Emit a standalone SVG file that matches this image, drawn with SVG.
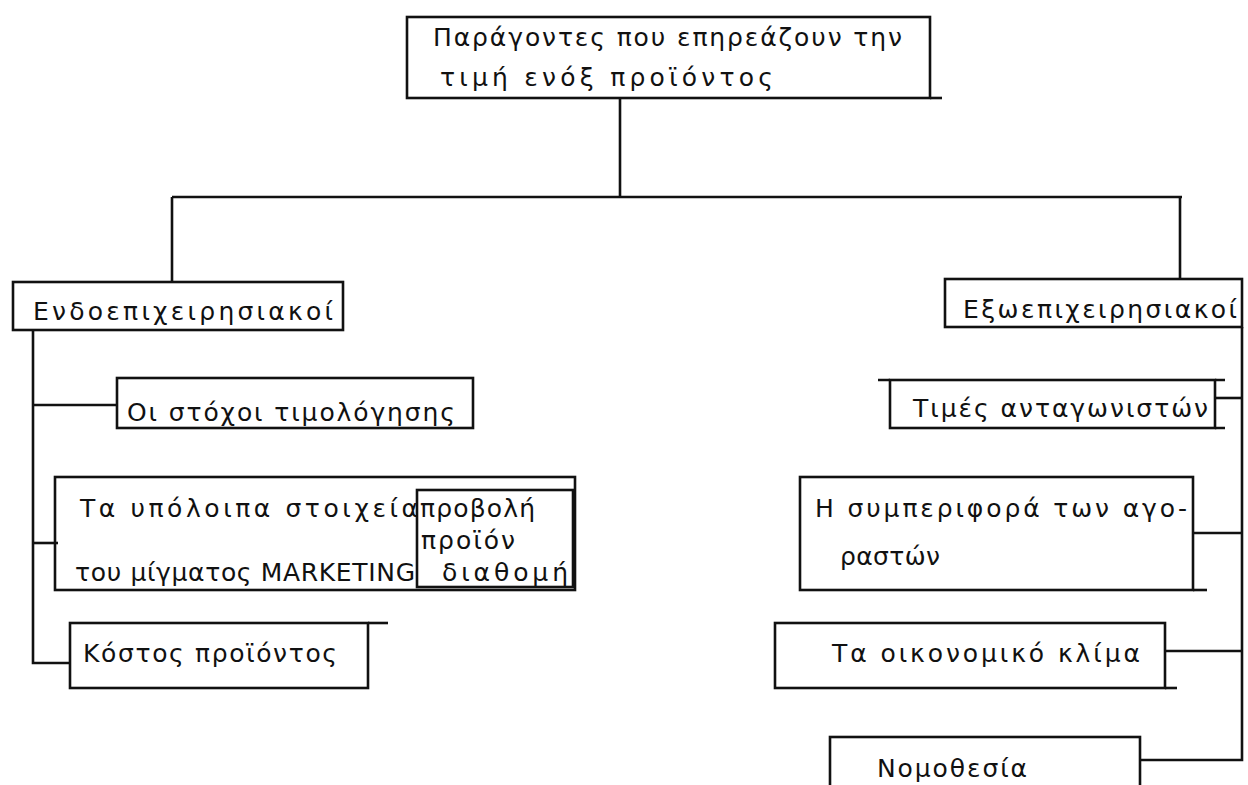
<svg xmlns="http://www.w3.org/2000/svg" width="1248" height="785" viewBox="0 0 1248 785">
<style>
.box{fill:none;stroke:#111;stroke-width:2.6}
.ln{fill:none;stroke:#111;stroke-width:2.6}
.t{font-family:"DejaVu Sans","Liberation Sans",sans-serif;font-size:25px;fill:#111}
</style>
<rect x="0" y="0" width="1248" height="785" fill="#fff"/>
<g id="connectors">
<path class="ln" d="M620 98 V197"/>
<path class="ln" d="M172 197 H1182"/>
<path class="ln" d="M172 197 V282"/>
<path class="ln" d="M1180 197 V279"/>
<path class="ln" d="M33 330 V663 H70"/>
<path class="ln" d="M33 405 H117"/>
<path class="ln" d="M33 543 H58"/>
<path class="ln" d="M1242 327 V760 H1140"/>
<path class="ln" d="M1215 398 H1242"/>
<path class="ln" d="M1193 533 H1242"/>
<path class="ln" d="M1165 651 H1242"/>
</g>
<g id="title">
<rect class="box" x="407" y="17" width="523" height="81"/>
<path class="ln" d="M930 98 H942"/>
<text class="t" x="433" y="46" textLength="469" lengthAdjust="spacing">Παράγοντες που επηρεάζουν την</text>
<text class="t" x="440" y="86" textLength="333" lengthAdjust="spacing">τιμή ενόξ  προϊόντος</text>
</g>
<g id="endo">
<rect class="box" x="13" y="282" width="330" height="48"/>
<text class="t" x="33" y="320" textLength="300" lengthAdjust="spacing">Ενδοεπιχειρησιακοί</text>
</g>
<g id="exo">
<rect class="box" x="945" y="279" width="297" height="48"/>
<text class="t" x="963" y="318" textLength="274" lengthAdjust="spacing">Εξωεπιχειρησιακοί</text>
</g>
<g id="stoxoi">
<rect class="box" x="117" y="378" width="356" height="50"/>
<text class="t" x="127" y="421" textLength="328" lengthAdjust="spacing">Οι στόχοι τιμολόγησης</text>
</g>
<g id="ypoloipa">
<rect class="box" x="55" y="477" width="520" height="113"/>
<rect class="box" x="417" y="490" width="156" height="97"/>
<text class="t" x="80" y="517" textLength="338" lengthAdjust="spacing">Τα υπόλοιπα στοιχεία</text>
<text class="t" x="75" y="581" textLength="340" lengthAdjust="spacing">του μίγματος MARKETING</text>
<text class="t" x="420" y="517" textLength="115" lengthAdjust="spacing">προβολή</text>
<text class="t" x="421" y="549" textLength="94" lengthAdjust="spacing">προϊόν</text>
<text class="t" x="442" y="581" textLength="126" lengthAdjust="spacing">διαθομή</text>
</g>
<g id="kostos">
<rect class="box" x="70" y="623" width="298" height="65"/>
<path class="ln" d="M368 623 H388"/>
<text class="t" x="83" y="662" textLength="254" lengthAdjust="spacing">Κόστος προϊόντος</text>
</g>
<g id="times">
<rect class="box" x="890" y="380" width="325" height="48"/>
<path class="ln" d="M878 380 H890 M1215 380 H1225 M1215 428 H1225"/>
<text class="t" x="913" y="417" textLength="295" lengthAdjust="spacing">Τιμές ανταγωνιστών</text>
</g>
<g id="symperifora">
<rect class="box" x="800" y="477" width="393" height="113"/>
<path class="ln" d="M1193 590 H1207"/>
<text class="t" x="815" y="517" textLength="372" lengthAdjust="spacing">Η συμπεριφορά  των αγο-</text>
<text class="t" x="840" y="565" textLength="100" lengthAdjust="spacing">ραστών</text>
</g>
<g id="klima">
<rect class="box" x="775" y="623" width="390" height="65"/>
<path class="ln" d="M1165 688 H1177"/>
<text class="t" x="832" y="662" textLength="308" lengthAdjust="spacing">Τα οικονομικό κλίμα</text>
</g>
<g id="nomothesia">
<rect class="box" x="830" y="737" width="310" height="60"/>
<text class="t" x="877" y="777" textLength="150" lengthAdjust="spacing">Νομοθεσία</text>
</g>
</svg>
